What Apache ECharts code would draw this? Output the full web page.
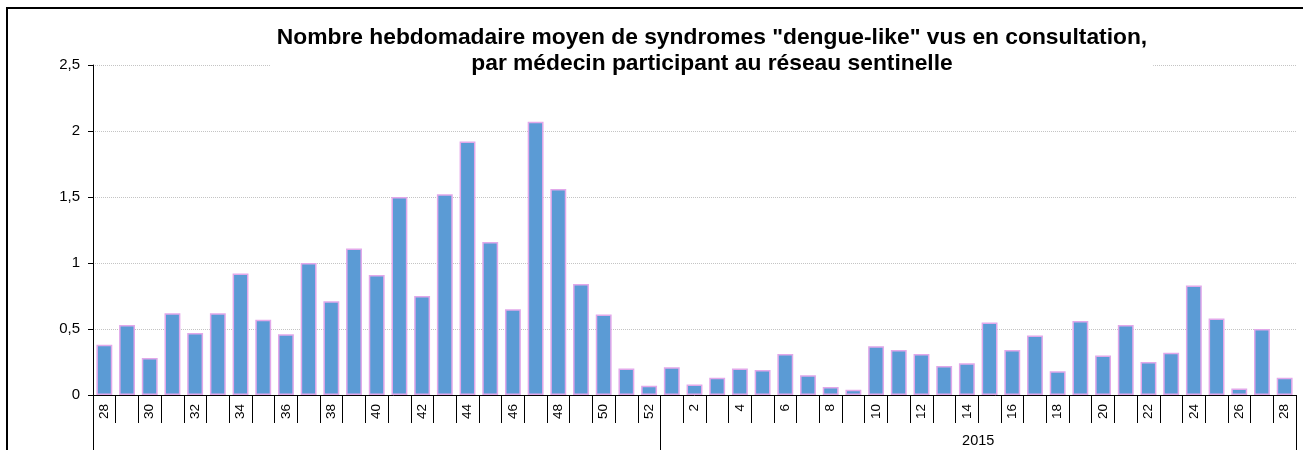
<!DOCTYPE html>
<html>
<head>
<meta charset="utf-8">
<script src="https://cdn.jsdelivr.net/npm/echarts@6/dist/echarts.min.js"></script>
<style>
  html, body { margin: 0; padding: 0; background: #fff; }
  #main { width: 1303px; height: 450px; }
</style>
</head>
<body>
<div id="main"></div>
<script>
// semaines 28-52 (2014) puis 1-28 (2015)
var weeks2014 = [28, 29, 30, 31, 32, 33, 34, 35, 36, 37, 38, 39, 40, 41, 42, 43, 44, 45, 46, 47, 48, 49, 50, 51, 52]
var weeks2015 = [1, 2, 3, 4, 5, 6, 7, 8, 9, 10, 11, 12, 13, 14, 15, 16, 17, 18, 19, 20, 21, 22, 23, 24, 25, 26, 27, 28]
var values2014 = [0.38, 0.53, 0.28, 0.62, 0.47, 0.62, 0.92, 0.57, 0.46, 1.0, 0.71, 1.11, 0.91, 1.5, 0.75, 1.52, 1.92, 1.16, 0.65, 2.07, 1.56, 0.84, 0.61, 0.2, 0.07]
var values2015 = [0.21, 0.08, 0.13, 0.2, 0.19, 0.31, 0.15, 0.06, 0.04, 0.37, 0.34, 0.31, 0.22, 0.24, 0.55, 0.34, 0.45, 0.18, 0.56, 0.3, 0.53, 0.25, 0.32, 0.83, 0.58, 0.05, 0.5, 0.13]
var yearLabel = '2015'

var categories = weeks2014.concat(weeks2015).map(String)
var values = values2014.concat(values2015)
var yearStart = weeks2014.length
var yearMid = weeks2014.length + weeks2015.length / 2

var font = 'Liberation Sans, Arial, sans-serif'
var myChart = echarts.init(document.getElementById('main'))

var option = {
  animation: false,
  backgroundColor: '#fff',
  title: {
    text: 'Nombre hebdomadaire moyen de syndromes "dengue-like" vus en consultation,\npar médecin participant au réseau sentinelle',
    left: 706,
    top: 25,
    textAlign: 'center',
    backgroundColor: '#fff',
    padding: [0, 6],
    textStyle: {
      fontFamily: font,
      fontSize: 22.8,
      fontWeight: 'bold',
      color: '#000',
      lineHeight: 26
    }
  },
  graphic: [
    {
      type: 'rect',
      shape: { x: 7, y: 8, width: 1300, height: 500 },
      style: { fill: 'none', stroke: '#000', lineWidth: 2 },
      silent: true
    }
  ],
  grid: {
    left: 93,
    right: 7,
    top: 65,
    bottom: 55
  },
  xAxis: [
    {
      type: 'category',
      data: categories,
      axisLine: { lineStyle: { color: '#000', width: 1 } },
      axisTick: { show: true, interval: 0, length: 28, lineStyle: { color: '#000' } },
      axisLabel: {
        rotate: 90,
        margin: 9,
        fontFamily: font,
        fontSize: 13.5,
        color: '#000',
        interval: function (idx, val) { return parseInt(val, 10) % 2 === 0 }
      }
    },
    {
      type: 'category',
      data: categories,
      position: 'bottom',
      axisLine: { show: false },
      axisTick: {
        show: true,
        length: 58,
        lineStyle: { color: '#000' },
        interval: function (idx) { return idx === 0 || idx === yearStart }
      },
      axisLabel: { show: false }
    },
    {
      type: 'value',
      position: 'bottom',
      min: 0,
      max: categories.length,
      interval: 0.5,
      axisLine: { show: false },
      axisTick: { show: false },
      splitLine: { show: false },
      axisLabel: {
        margin: 38,
        fontFamily: font,
        fontSize: 14.5,
        color: '#000',
        formatter: function (v) { return v === yearMid ? yearLabel : '' }
      }
    }
  ],
  yAxis: {
    type: 'value',
    min: 0,
    max: 2.5,
    interval: 0.5,
    axisLine: { show: true, lineStyle: { color: '#000', width: 1 } },
    axisTick: { show: true, length: 5, lineStyle: { color: '#000' } },
    axisLabel: {
      margin: 13,
      fontFamily: font,
      fontSize: 15,
      color: '#000',
      formatter: function (v) { return String(v).replace('.', ',') }
    },
    splitLine: { show: true, lineStyle: { color: '#c4c4c4', type: 'dotted', width: 1 } }
  },
  series: [
    {
      name: 'dengue-like',
      type: 'bar',
      xAxisIndex: 0,
      data: values,
      barCategoryGap: '30%',
      itemStyle: {
        color: '#5B9BD5',
        borderColor: '#E2A8EA',
        borderWidth: 1.5
      }
    }
  ]
}

myChart.setOption(option)
</script>
</body>
</html>
